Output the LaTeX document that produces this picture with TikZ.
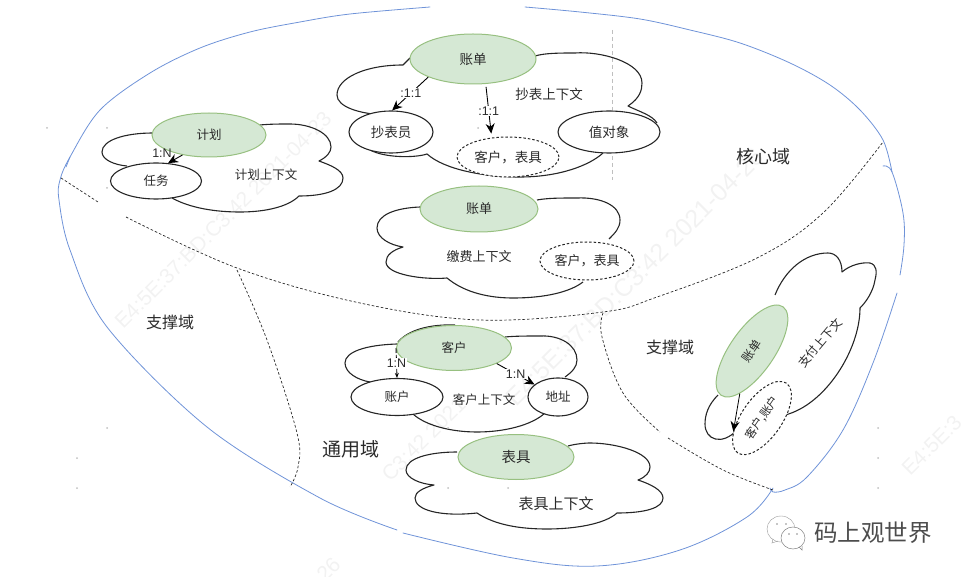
\documentclass[tikz,border=0pt]{standalone}
\usepackage{fontspec}
\setmainfont{Noto Sans CJK SC}
\newfontfamily\latinf{Liberation Sans}
\usetikzlibrary{shapes.geometric,arrows.meta}
\definecolor{bluel}{HTML}{6F93D8}
\definecolor{greenf}{HTML}{D5E8D4}
\definecolor{greend}{HTML}{97C080}
\definecolor{ink}{HTML}{2A2A2A}
\newcommand{\fs}[1]{\fontsize{#1}{#1}\selectfont}
\tikzset{
 x=1pt,y=-1pt,
 outer/.style={draw=bluel,line width=.8pt,line cap=round},
 divider/.style={draw=ink,line width=.7pt,dash pattern=on 2.6pt off 2pt},
 cloudline/.style={draw=black!85,line width=1.1pt,line join=round},
 green/.style={ellipse,draw=greend,fill=greenf,line width=1pt,inner sep=0pt},
 whiteell/.style={ellipse,draw=black!85,fill=white,line width=1.1pt,inner sep=0pt},
 dashell/.style={ellipse,draw=black!85,fill=white,line width=1pt,dash pattern=on 2.5pt off 2pt,inner sep=0pt},
 txt/.style={text=ink,inner sep=0pt},
 lab/.style={text=ink,fill=white,inner sep=.6pt,font=\latinf\fs{12.5}},
 conn/.style={draw=black,line width=.9pt,-{Stealth[length=10pt,width=9pt]}},
 wm/.style={text=black,opacity=.05,font=\latinf\fs{21},inner sep=0pt,rotate=45,anchor=west},
 grid/.style={fill=black!25,circle,inner sep=0pt,minimum size=2pt},
}
\begin{document}
\begin{tikzpicture}
\useasboundingbox (0,0) rectangle (964,577);
% outer domain outline
\draw[outer] plot[smooth,tension=.55] coordinates {(397,530)(320,498)(207,427)(107,327)(70,250)(59,200)(60,180)(70,157)(100,110)(150,73)(200,48)(250,32)(300,22)(350,14)(430,7)};
\draw[outer] (70,157) -- (66,167);
\draw[outer] plot[smooth,tension=.55] coordinates {(525,7)(580,12)(640,19)(690,30)(740,43)(790,63)(830,85)(860,110)(883,140)(892,172)};
\draw[outer] plot[smooth,tension=.6] coordinates {(883,166)(892,172)(903,213)(904,245)(900,275)};
\draw[outer] plot[smooth,tension=.6] coordinates {(897,293)(873,363)(843,430)(807,477)(785,490)(773,492)(770,488)};
\draw[outer] plot[smooth,tension=.6] coordinates {(773,488)(747,517)(680,550)(597,566)(513,558)(403,533)};
% domain dividers
\draw[divider] (61,178) -- (98,202);
\draw[divider] plot[smooth,tension=.6] coordinates {(126,217)(237,268)(360,303)(480,320)(603,312)(657,297)(757,258)(823,213)(883,142)};
\draw[divider] plot[smooth,tension=.6] coordinates {(237,270)(267,340)(297,433)(298,467)(290,487)};
\draw[divider] plot[smooth,tension=.6] coordinates {(603,313)(602,337)(623,393)(660,432)};
\draw[divider] plot[smooth,tension=.6] coordinates {(668,438)(723,470)(773,490)};
\draw[draw=black!25,line width=.7pt,dash pattern=on 4pt off 3pt] (612,30) -- (612,180);
% clouds
\draw[cloudline] (410,58) -- (403,65) .. controls (365,65) and (337,78) .. (337,95) .. controls (337,107) and (360,114) .. (385,115);
\draw[cloudline] (370,150) .. controls (385,158) and (415,158) .. (427,154) .. controls (445,170) and (485,177) .. (520,177) .. controls (560,177) and (590,165) .. (603,153);
\draw[cloudline] (657,123) .. controls (652,115) and (640,112) .. (628,106) .. controls (640,98) and (642,90) .. (642,83) .. controls (642,62) and (600,51) .. (575,53) .. controls (560,53) and (545,53) .. (535,56);
\draw[cloudline] (420,207) .. controls (395,208) and (377,215) .. (377,228) .. controls (377,238) and (390,245) .. (403,247) .. controls (393,250) and (386,255) .. (386,262) .. controls (386,275) and (425,280) .. (447,278) .. controls (465,293) and (490,298) .. (513,298) .. controls (545,298) and (570,292) .. (583,282);
\draw[cloudline] (609,239) .. controls (615,233) and (620,228) .. (620,220) .. controls (620,205) and (600,197) .. (577,198) .. controls (560,198) and (548,198) .. (537,200);
\draw[cloudline] (153,133) .. controls (125,133) and (102,140) .. (102,152) .. controls (102,160) and (115,165) .. (127,166);
\draw[cloudline] (172,198) .. controls (190,208) and (215,212) .. (240,212) .. controls (265,212) and (288,207) .. (299,196) .. controls (325,196) and (343,190) .. (343,178) .. controls (343,170) and (330,165) .. (319,161) .. controls (327,157) and (331,152) .. (331,147) .. controls (331,133) and (310,124) .. (290,124) .. controls (280,124) and (270,124) .. (260,125);
\draw[cloudline] (397,344) .. controls (365,345) and (345,352) .. (345,363) .. controls (345,373) and (358,380) .. (370,382);
\draw[cloudline] (398,342) .. controls (408,330) and (430,324) .. (455,325);
\draw[cloudline] (413,414) .. controls (425,425) and (450,432) .. (477,432) .. controls (505,432) and (532,425) .. (545,413);
\draw[cloudline] (565,377) .. controls (572,372) and (577,367) .. (577,360) .. controls (577,345) and (560,335) .. (540,336) .. controls (528,336) and (515,336) .. (505,337);
\draw[cloudline] (457,452) .. controls (430,452) and (406,458) .. (406,470) .. controls (406,478) and (420,484) .. (434,485) .. controls (423,488) and (415,492) .. (415,498) .. controls (415,510) and (440,517) .. (477,513) .. controls (495,525) and (520,529) .. (547,529) .. controls (575,529) and (605,524) .. (617,513) .. controls (645,513) and (663,508) .. (663,498) .. controls (663,490) and (650,484) .. (638,480) .. controls (646,477) and (650,472) .. (650,467) .. controls (650,452) and (615,443) .. (590,443) .. controls (585,443) and (575,444) .. (568,446);
\draw[cloudline] (775,295) .. controls (785,270) and (805,253) .. (828,253) .. controls (836,253) and (842,260) .. (842,272) .. controls (850,265) and (862,262) .. (870,263) .. controls (877,265) and (877,272) .. (875,280) .. controls (873,292) and (866,302) .. (860,308) .. controls (860,350) and (825,405) .. (785,415);
\draw[cloudline] (718,395) .. controls (708,405) and (705,415) .. (705,424) .. controls (705,440) and (722,446) .. (737,430);
% nodes
\node[green,minimum width=126pt,minimum height=50pt] (zd1) at (473,59) {};
\node[txt,font=\fs{13.5}] at (zd1) {账单};
\node[whiteell,minimum width=84pt,minimum height=42pt,font=\fs{13.5},text=ink] (cby) at (391,132) {抄表员};
\node[whiteell,minimum width=102pt,minimum height=42pt,font=\fs{13.5},text=ink] (zdx) at (609,132) {值对象};
\node[dashell,minimum width=102pt,minimum height=40pt,font=\fs{13.5},text=ink] (kb1) at (508,157) {客户，表具};
\node[txt,font=\fs{13.5}] (t1) at (549,94) {抄表上下文};
\node[green,minimum width=118pt,minimum height=46pt,font=\fs{13},text=ink] (zd2) at (479,209) {账单};
\node[dashell,minimum width=94pt,minimum height=38pt,font=\fs{13},text=ink] (kb2) at (587,261) {客户，表具};
\node[txt,font=\fs{13}] (t2) at (479,257) {缴费上下文};
\node[green,minimum width=114pt,minimum height=44pt,font=\fs{12.5},text=ink] (jh) at (209,135) {计划};
\node[whiteell,minimum width=91pt,minimum height=36pt,font=\fs{12.5},text=ink] (rw) at (156,181) {任务};
\node[txt,font=\fs{12.5}] (t3) at (266,175) {计划上下文};
\node[green,minimum width=115pt,minimum height=45pt,font=\fs{12.5},text=ink] (kh) at (454,348) {客户};
\node[whiteell,minimum width=92pt,minimum height=37pt,font=\fs{12.5},text=ink] (zh) at (397,397) {账户};
\node[whiteell,minimum width=60pt,minimum height=38pt,font=\fs{12.5},text=ink] (dz) at (558,397) {地址};
\node[txt,font=\fs{12.5}] (t4) at (484,400) {客户上下文};
\node[green,minimum width=116pt,minimum height=45pt,font=\fs{14.5},text=ink] (bj) at (516,457) {表具};
\node[txt,font=\fs{15}] (t5) at (556,504) {表具上下文};
\node[green,rotate=55,minimum width=108pt,minimum height=44pt,font=\fs{12},text=ink] (zd3) at (752,351) {账单};
\node[dashell,rotate=55,minimum width=85pt,minimum height=40pt,font=\fs{11.5},text=ink] (kz) at (762,418) {客户,账户};
\node[txt,rotate=50,font=\fs{12}] (t6) at (820,343) {支付上下文};
% domain labels
\node[txt,font=\fs{18}] (d1) at (763,157) {核心域};
\node[txt,font=\fs{16}] (d2) at (170,322) {支撑域};
\node[txt,font=\fs{16}] (d3) at (670,347) {支撑域};
\node[txt,font=\fs{19}] (d4) at (351,449) {通用域};
% connectors
\draw[conn] (zd1.202) -- node[lab,pos=.48] {:1:1} (cby.87);
\draw[conn,shorten <=3pt,shorten >=4pt] (zd1.297) -- node[lab,pos=.5] {:1:1} (kb1.130);
\draw[conn] (jh.217) -- (rw.56);
\node[lab,fill=none] (ln) at (162,153) {1:N};
\draw[conn,-{Stealth[length=5pt,width=4pt]},dash pattern=on 5pt off 2pt] (kh.west) -- node[lab,pos=.5] {1:N} (zh.north);
\draw[conn] (kh.-20) -- node[lab,pos=.5] {1:N} (dz.152);
\draw[conn,line width=.8pt] (zd3.199.6) -- (kz.150);
% wechat logo
\draw[black!40,line width=.4pt,fill=white] (781,529) circle[x radius=14,y radius=13];
\draw[black!40,line width=.4pt] (773,539) -- (772,543) -- (778,541);
\draw[black!50,line width=.5pt,fill=white] (793,538) circle[x radius=12,y radius=11];
\draw[black!50,line width=.5pt] (799,547) -- (802,550) -- (802,546);
\foreach \p in {(777,524),(786,524),(789,534),(797,534)} \fill[black!45] \p circle[radius=.9];
\node[txt,text=black!70,font=\fs{23.5}] (brand) at (873,533) {码上观世界};
% watermark
\node[wm] at (118,325) {E4:5E:37:BD:C3:42 2021-04-23};
\node[wm,font=\latinf\fs{25}] at (510,402) {E4:5E:37:BD:C3:42 2021-04-26};
\node[wm] at (905,472) {E4:5E:3};
\node[wm] at (385,478) {C3:42 2021};
\node[wm] at (320,578) {26};
\foreach \p in {(47,128),(107,128),(107,188),(107,428),(77,458),(77,488),(878,428),(878,458),(878,488),(448,428),(508,488),(448,488),(478,128)}
  \node[grid] at \p {};
\end{tikzpicture}
\end{document}
